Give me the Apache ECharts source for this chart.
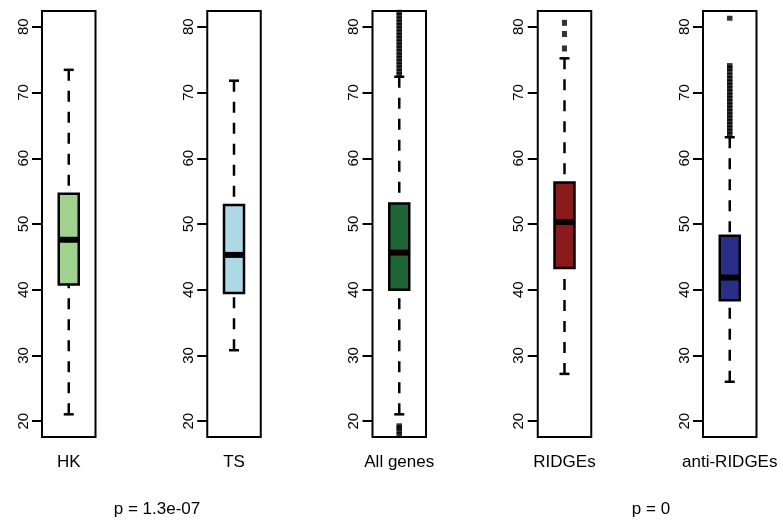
<!DOCTYPE html>
<html>
<head>
<meta charset="utf-8">
<script src="https://cdn.jsdelivr.net/npm/echarts@6/dist/echarts.min.js"></script>
<style>
html,body{margin:0;padding:0;background:#fff;}
#chart{width:783px;height:522px;}
</style>
</head>
<body>
<div id="chart"></div>
<script>
// ---- data ----
const categories = ['HK', 'TS', 'All genes', 'RIDGEs', 'anti-RIDGEs'];
const lowWhisker = [21.05, 30.8, 21.05, 27.2, 26.0];
const q1Values = [40.8, 39.5, 40.0, 43.3, 38.4];
const medianValues = [47.6, 45.3, 45.65, 50.3, 41.85];
const q3Values = [54.6, 52.9, 53.1, 56.3, 48.2];
const highWhisker = [73.45, 71.8, 72.4, 75.2, 63.2];
const outliersHK = [];
const outliersTS = [];
const outliersAll = [17.0, 17.5, 18.0, 18.5, 19.0, 19.3,
  72.7, 73.2, 73.7, 74.2, 74.7, 75.2, 75.7, 76.2, 76.7, 77.2, 77.7, 78.2,
  78.7, 79.2, 79.7, 80.2, 80.7, 81.2, 81.7, 82.2, 82.7];
const outliersRidges = [76.7, 78.9, 80.6];
const outliersAnti = [63.6, 64.1, 64.6, 65.1, 65.6, 66.1, 66.6, 67.1, 67.6, 68.1,
  68.6, 69.1, 69.6, 70.1, 70.6, 71.1, 71.6, 72.1, 72.6, 73.2, 73.7, 74.1, 81.3];
const yTicks = [20, 30, 40, 50, 60, 70, 80];
const pLabels = ['p = 1.3e-07', 'p = 0'];
// ---------------------------------------

const outlierSets = [outliersHK, outliersTS, outliersAll, outliersRidges, outliersAnti];
const fills = ['#9fd28d', '#add8e6', '#1d6535', '#8b1a1a', '#2b2e86'];
const outlierSizes = [[5, 5], [5, 5], [5.5, 5], [5, 6], [5.5, 5]];
const FONT = 'Liberation Sans, Arial, sans-serif';

const grids = [], xAxes = [], yAxes = [], series = [];
for (let i = 0; i < categories.length; i++) {
  grids.push({
    left: 42 + i * 165.25, top: 11, width: 53.5, height: 426,
    show: true, borderColor: '#000', borderWidth: 2, backgroundColor: 'transparent'
  });
  xAxes.push({
    gridIndex: i, type: 'category', data: [categories[i]], boundaryGap: true,
    axisLine: { show: false }, axisTick: { show: false }, splitLine: { show: false },
    axisLabel: { color: '#000', fontFamily: FONT, fontSize: 17, margin: 17 }
  });
  yAxes.push({
    gridIndex: i, type: 'value', min: 17.6, max: 82.4,
    axisLine: { show: false },
    splitLine: { show: false },
    axisTick: { show: true, length: 10, customValues: yTicks, lineStyle: { color: '#000', width: 2 } },
    axisLabel: {
      show: true, customValues: yTicks, rotate: 90, margin: 11,
      align: 'center', verticalAlign: 'bottom',
      color: '#000', fontFamily: FONT, fontSize: 15
    }
  });
  series.push({
    type: 'custom', xAxisIndex: i, yAxisIndex: i,
    data: [[0, lowWhisker[i], q1Values[i], medianValues[i], q3Values[i], highWhisker[i]]],
    encode: { x: 0, y: [1, 2, 3, 4, 5] },
    clip: true,
    renderItem: (function (fill) {
      return function (params, api) {
        const x = api.value(0);
        const pL = api.coord([x, api.value(1)]);
        const p1 = api.coord([x, api.value(2)]);
        const pM = api.coord([x, api.value(3)]);
        const p3 = api.coord([x, api.value(4)]);
        const pH = api.coord([x, api.value(5)]);
        const cx = pL[0];
        const bw = 20, cw = 10;
        const dashStyle = { stroke: '#000', lineWidth: 2.5, lineDash: [11, 10], fill: null };
        const solid = { stroke: '#000', lineWidth: 2.5, fill: null };
        return {
          type: 'group',
          children: [
            { type: 'line', shape: { x1: cx, y1: pH[1], x2: cx, y2: p3[1] }, style: dashStyle },
            { type: 'line', shape: { x1: cx, y1: pL[1], x2: cx, y2: p1[1] }, style: dashStyle },
            { type: 'line', shape: { x1: cx - cw / 2, y1: pH[1], x2: cx + cw / 2, y2: pH[1] }, style: solid },
            { type: 'line', shape: { x1: cx - cw / 2, y1: pL[1], x2: cx + cw / 2, y2: pL[1] }, style: solid },
            { type: 'rect', shape: { x: cx - bw / 2, y: p3[1], width: bw, height: p1[1] - p3[1] },
              style: { fill: fill, stroke: '#000', lineWidth: 2.5 } },
            { type: 'line', shape: { x1: cx - bw / 2, y1: pM[1], x2: cx + bw / 2, y2: pM[1] },
              style: { stroke: '#000', lineWidth: 6 } }
          ]
        };
      };
    })(fills[i])
  });
  if (outlierSets[i].length) {
    series.push({
      type: 'scatter', xAxisIndex: i, yAxisIndex: i, clip: true,
      symbol: 'rect', symbolSize: outlierSizes[i],
      itemStyle: { color: '#000' },
      data: outlierSets[i].map(v => [0, v])
    });
  }
}

const chart = echarts.init(document.getElementById('chart'), null, { renderer: 'canvas' });
chart.setOption({
  animation: false,
  backgroundColor: '#fff',
  grid: grids, xAxis: xAxes, yAxis: yAxes, series: series,
  graphic: [
    { type: 'text', x: 157, y: 509, style: { text: pLabels[0], fill: '#000', font: '17px ' + FONT, textAlign: 'center', textVerticalAlign: 'middle' } },
    { type: 'text', x: 651, y: 509, style: { text: pLabels[1], fill: '#000', font: '17px ' + FONT, textAlign: 'center', textVerticalAlign: 'middle' } }
  ]
});
</script>
</body>
</html>
